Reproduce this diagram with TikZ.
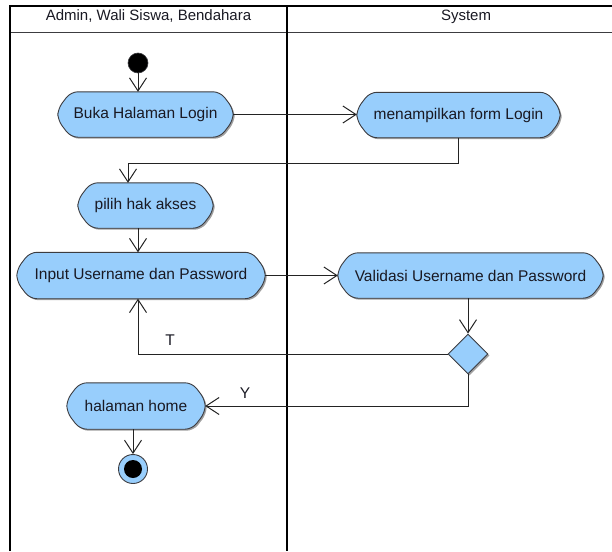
\documentclass[tikz,border=0pt]{standalone}
\usepackage{fontspec}
\setmainfont{Liberation Sans}
\usetikzlibrary{arrows.meta,shapes.geometric,shadows}
\definecolor{actblue}{RGB}{152,206,252}
\definecolor{actedge}{RGB}{60,60,64}
\definecolor{linec}{RGB}{35,35,35}
\definecolor{txtc}{RGB}{25,25,35}
\definecolor{shadowc}{RGB}{160,160,160}
\pgfdeclarelayer{bg}
\pgfsetlayers{bg,main}
\newcommand\octpath[3]{([xshift=#2+13pt,yshift=#3]#1.north west) -- ([xshift=#2-13pt,yshift=#3]#1.north east) -- ([xshift=#2,yshift=#3-17pt]#1.north east) -- ([xshift=#2,yshift=#3+17pt]#1.south east) -- ([xshift=#2-13pt,yshift=#3]#1.south east) -- ([xshift=#2+13pt,yshift=#3]#1.south west) -- ([xshift=#2,yshift=#3+17pt]#1.south west) -- ([xshift=#2,yshift=#3-17pt]#1.north west) -- cycle}
\tikzset{
  act/.style={rectangle, inner sep=0pt, text=txtc},
  lane/.style={draw=black, line width=1.4pt},
  hdr/.style={draw=actedge, line width=1pt},
  lbl/.style={text=txtc, inner sep=0pt},
  arr/.style={draw=linec, line width=1pt, -{Straight Barb[length=13pt,width=17pt,line width=1pt]}},
  decision/.style={diamond, aspect=1, inner sep=0pt, minimum size=40pt, fill=actblue, draw=actedge, line width=0.9pt, drop shadow={shadow xshift=1.5pt, shadow yshift=-1.5pt, fill=shadowc, opacity=1}}
}
\begin{document}
\begin{tikzpicture}[x=1pt, y=-1pt, font=\fontsize{15.5}{18}\selectfont]
\useasboundingbox (0,0) rectangle (612,551);
% swimlanes
\draw[hdr] (10,33) -- (612,33);
\draw[lane] (10,551) -- (10,6) -- (612,6);
\draw[lane] (287,6) -- (287,551);
\node[lbl, anchor=base, font=\fontsize{15}{18}\selectfont] (h1) at (148.5,21) {Admin, Wali Siswa, Bendahara};
\node[lbl, anchor=base, font=\fontsize{15}{18}\selectfont] (h2) at (466,21) {System};
% activities
\node[act, minimum width=175pt, minimum height=45pt] (buka) at (145.5,114.5) {Buka Halaman Login};
\node[act, minimum width=203pt, minimum height=45pt] (menu) at (458.5,115) {menampilkan form Login};
\node[act, minimum width=135pt, minimum height=45pt] (pilih) at (145.5,205.5) {pilih hak akses};
\node[act, minimum width=248pt, minimum height=46pt] (input) at (141,275.5) {Input Username dan Password};
\node[act, minimum width=265pt, minimum height=45pt] (val) at (470.5,275.5) {Validasi Username dan Password};
\node[act, minimum width=138pt, minimum height=46pt] (home) at (136,406) {halaman home};
\begin{pgfonlayer}{bg}
\foreach \n in {buka,menu,pilih,input,val,home}{
  \fill[shadowc, rounded corners=7pt] \octpath{\n}{1.5pt}{-1.5pt};
  \filldraw[fill=actblue, draw=actedge, line width=0.9pt, rounded corners=7pt] \octpath{\n}{0pt}{0pt};
}
\end{pgfonlayer}
\node[decision] (dia) at (468,354) {};
\node[circle, inner sep=0pt, minimum size=20pt, fill=black, draw=actedge, line width=0.6pt] (init) at (138,63) {};
\node[circle, inner sep=0pt, minimum size=29pt, fill=actblue, draw=actedge, line width=0.9pt] (fin) at (133,469) {};
\fill[black] (fin) circle (9pt);
% connectors
\coordinate (b1) at (128,163);
\draw[arr] (init) -- (buka.north -| init);
\draw[arr] (buka.east) -- (buka.east -| menu.west);
\draw[arr] (menu.south) |- (b1) -- (pilih.north -| b1);
\draw[arr] (pilih.south -| init) -- (input.north -| init);
\draw[arr] (input.east) -- (val.west);
\draw[arr] (val.south -| dia) -- (dia.north);
\draw[arr] (dia.west) -| (input.south -| init);
\draw[arr] (dia.south) |- (home.east);
\draw[arr] (home.south -| fin) -- (fin);
\node[lbl] (lt) at (170,340) {T};
\node[lbl] (ly) at (245,393) {Y};
\end{tikzpicture}
\end{document}
